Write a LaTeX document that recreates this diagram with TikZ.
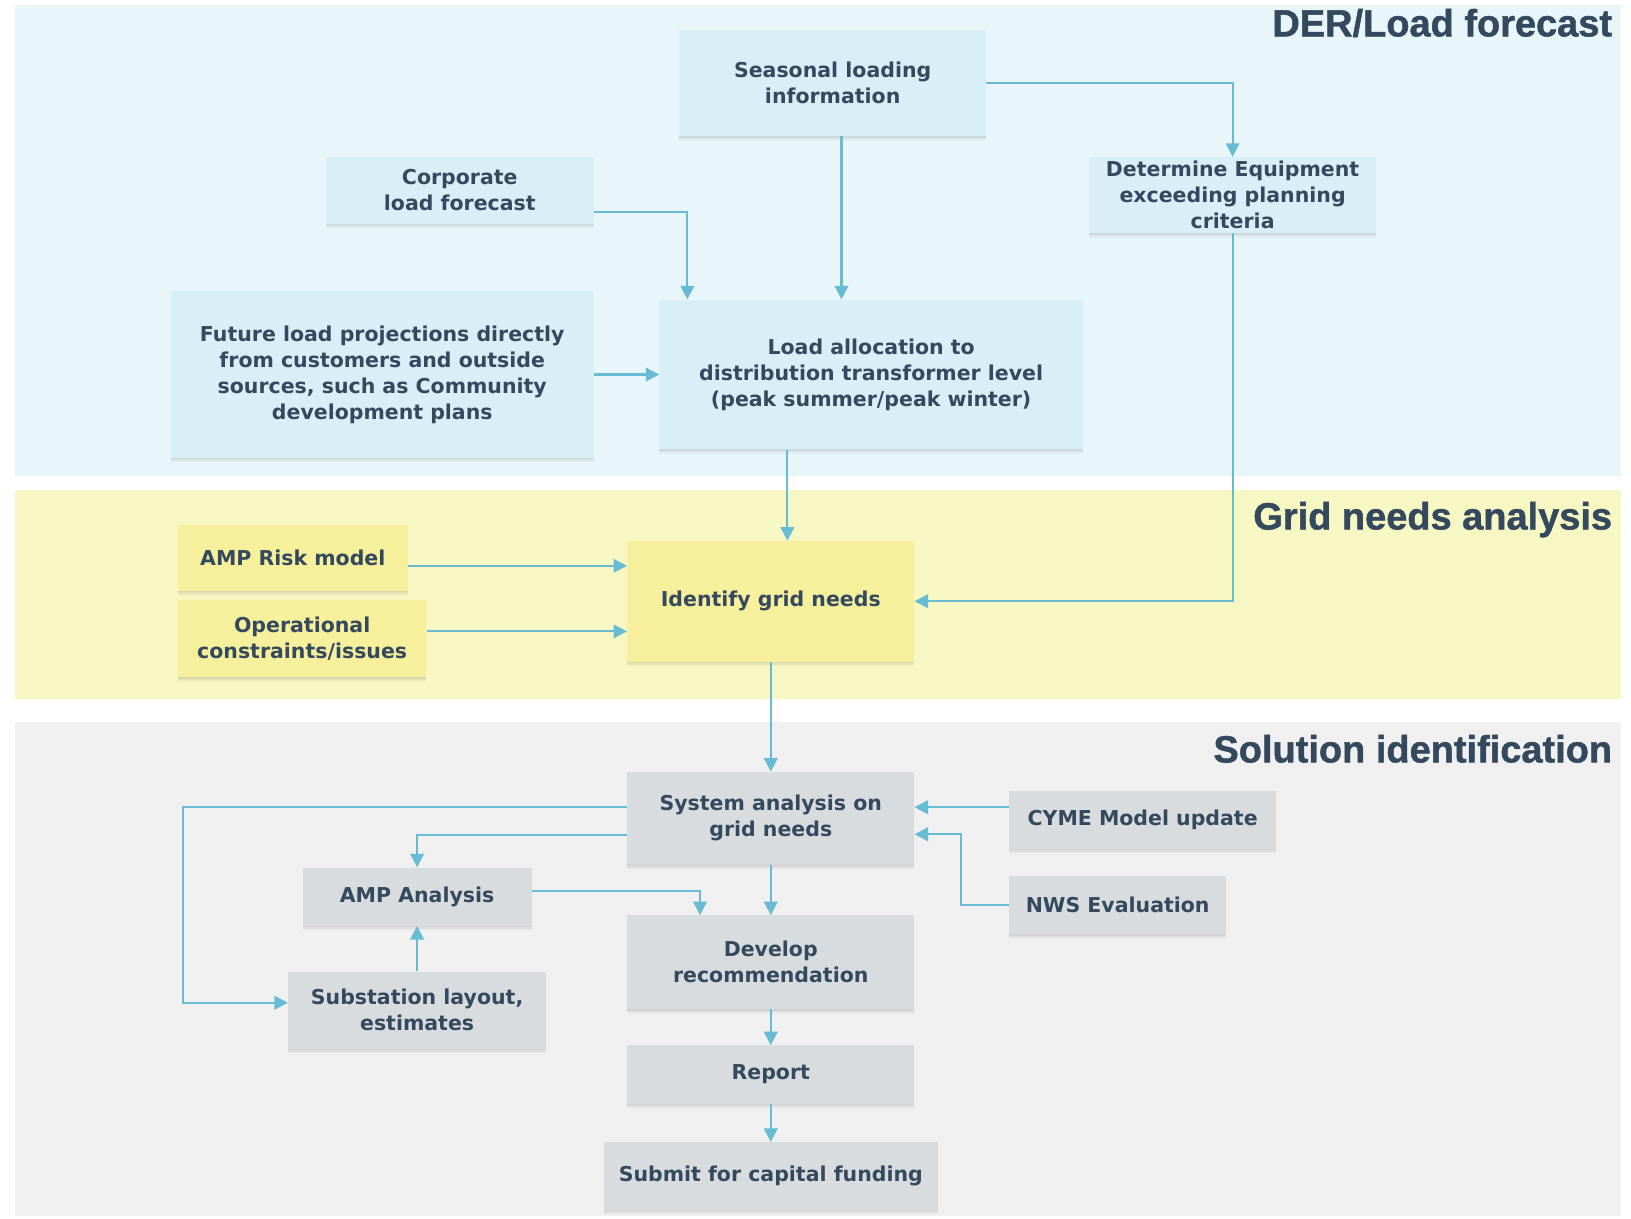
\documentclass[tikz,border=0pt]{standalone}
\usepackage{fontspec}
\setmainfont{DejaVu Sans}
\newfontfamily\titlefont{Liberation Sans}[UprightFont={* Bold}, FakeBold=1.2]
\usetikzlibrary{arrows.meta,shadows}
\definecolor{txt}{HTML}{34495E}
\definecolor{arr}{HTML}{67BCD3}
\definecolor{derband}{HTML}{E9F6F9}
\definecolor{derbox}{HTML}{D8EFF7}
\definecolor{gridband}{HTML}{F7F7C4}
\definecolor{gridbox}{HTML}{F6F09C}
\definecolor{solband}{HTML}{F0F0F0}
\definecolor{solbox}{HTML}{D9DCDF}
\tikzset{
  bx/.style={rectangle, inner sep=0pt, align=center, text=txt,
    font=\bfseries\fontsize{19.7}{25}\selectfont,
    drop shadow={shadow xshift=0pt, shadow yshift=-1.5pt, opacity=0.05, fill=black},
    drop shadow={shadow xshift=0pt, shadow yshift=-3pt, opacity=0.04, fill=black},
    drop shadow={shadow xshift=0pt, shadow yshift=-4.5pt, opacity=0.03, fill=black}},
  derb/.style={bx, fill=derbox},
  gridb/.style={bx, fill=gridbox},
  solb/.style={bx, fill=solbox},
  ttl/.style={anchor=base east, text=txt, inner sep=0pt, font=\titlefont\fontsize{36.5}{40}\selectfont},
  conn/.style={draw=arr, line width=2pt, -{Triangle[length=13pt,width=13pt]}},
}
\begin{document}
\begin{tikzpicture}[x=1pt,y=-1pt]
\useasboundingbox[fill=white] (0,0) rectangle (1568,1171);
% bands
\fill[derband] (14,5) rectangle (1558,458);
\fill[gridband] (14,471) rectangle (1558,672);
\fill[solband] (14,694) rectangle (1558,1169);
% titles
\node[ttl] (t1) at (1550,35) {DER/Load forecast};
\node[ttl] (t2) at (1550,509) {Grid needs analysis};
\node[ttl] (t3) at (1550,733) {Solution identification};
% DER boxes
\node[derb, minimum width=295, minimum height=102] (seas) at (800.5,80) {Seasonal loading\\information};
\node[derb, minimum width=258, minimum height=64] (corp) at (442,183) {Corporate\\load forecast};
\node[derb, minimum width=276, minimum height=73] (det) at (1185,187.5) {Determine Equipment\\exceeding planning\\criteria};
\node[derb, minimum width=407, minimum height=160] (fut) at (367.5,360) {Future load projections directly\\from customers and outside\\sources, such as Community\\development plans};
\node[derb, minimum width=407, minimum height=144] (load) at (837.5,360) {Load allocation to\\distribution transformer level\\(peak summer/peak winter)};
% grid boxes
\node[gridb, minimum width=221, minimum height=63] (risk) at (281.5,536.5) {AMP Risk model};
\node[gridb, minimum width=239, minimum height=74] (oper) at (290.5,614) {Operational\\constraints/issues};
\node[gridb, minimum width=276, minimum height=116] (ident) at (741,578) {Identify grid needs};
% solution boxes
\node[solb, minimum width=276, minimum height=89] (sys) at (741,786.5) {System analysis on\\grid needs};
\node[solb, minimum width=257, minimum height=56] (cyme) at (1098.5,788) {CYME Model update};
\node[solb, minimum width=209, minimum height=56] (nws) at (1074.5,870) {NWS Evaluation};
\node[solb, minimum width=220, minimum height=56] (ampan) at (401,862) {AMP Analysis};
\node[solb, minimum width=248, minimum height=74] (subst) at (401,971) {Substation layout,\\estimates};
\node[solb, minimum width=276, minimum height=90] (dev) at (741,925) {Develop\\recommendation};
\node[solb, minimum width=276, minimum height=56] (rep) at (741,1033) {Report};
\node[solb, minimum width=321, minimum height=65] (sub) at (741,1130.5) {Submit for capital funding};
% connector helper points
\coordinate (corpA) at ([yshift=-21pt]corp.east);
\coordinate (loadA) at ([xshift=27pt]load.north west);
\coordinate (seasA) at ([xshift=8.5pt]seas.south);
\coordinate (loadB) at ([xshift=-28.5pt]load.north);
\coordinate (identA) at ([xshift=16pt]ident.north);
\coordinate (riskA) at ([yshift=-7.5pt]risk.east);
\coordinate (operA) at ([yshift=7pt]oper.east);
\coordinate (cymeA) at ([yshift=12pt]cyme.west);
\coordinate (sysA) at ([yshift=-15.5pt]sys.east);
\coordinate (sysB) at ([yshift=10.5pt]sys.west);
\coordinate (sysC) at ([yshift=-16.5pt]sys.west);
\coordinate (substA) at ([yshift=7pt]subst.west);
\coordinate (ampanA) at ([yshift=5pt]ampan.east);
\coordinate (devA) at ([xshift=-68pt]dev.north);
% connectors
\draw[conn] (seas.east) -- (det.north |- seas.east) -- (det.north);
\draw[conn] (corpA) -| (loadA);
\draw[conn] (seasA) -- (loadB);
\draw[conn] (fut.east) -- (load.west);
\draw[conn] (load.south -| identA) -- (identA);
\draw[conn] (det.south) |- (ident.east);
\draw[conn] (riskA) -- (ident.west |- riskA);
\draw[conn] (operA) -- (ident.west |- operA);
\draw[conn] (ident.south) -- (sys.north);
\draw[conn] (cymeA) -- (sys.east |- cymeA);
\draw[conn] (nws.west) -- ++(-46,0) |- (sysA);
\draw[conn] (sysB) -- ++(-427,0) |- (substA);
\draw[conn] (sysC) -| (ampan.north);
\draw[conn] (subst.north) -- (ampan.south);
\draw[conn] (ampanA) -| (devA);
\draw[conn] (sys.south) -- (dev.north);
\draw[conn] (dev.south) -- (rep.north);
\draw[conn] (rep.south) -- (sub.north);
\end{tikzpicture}
\end{document}
